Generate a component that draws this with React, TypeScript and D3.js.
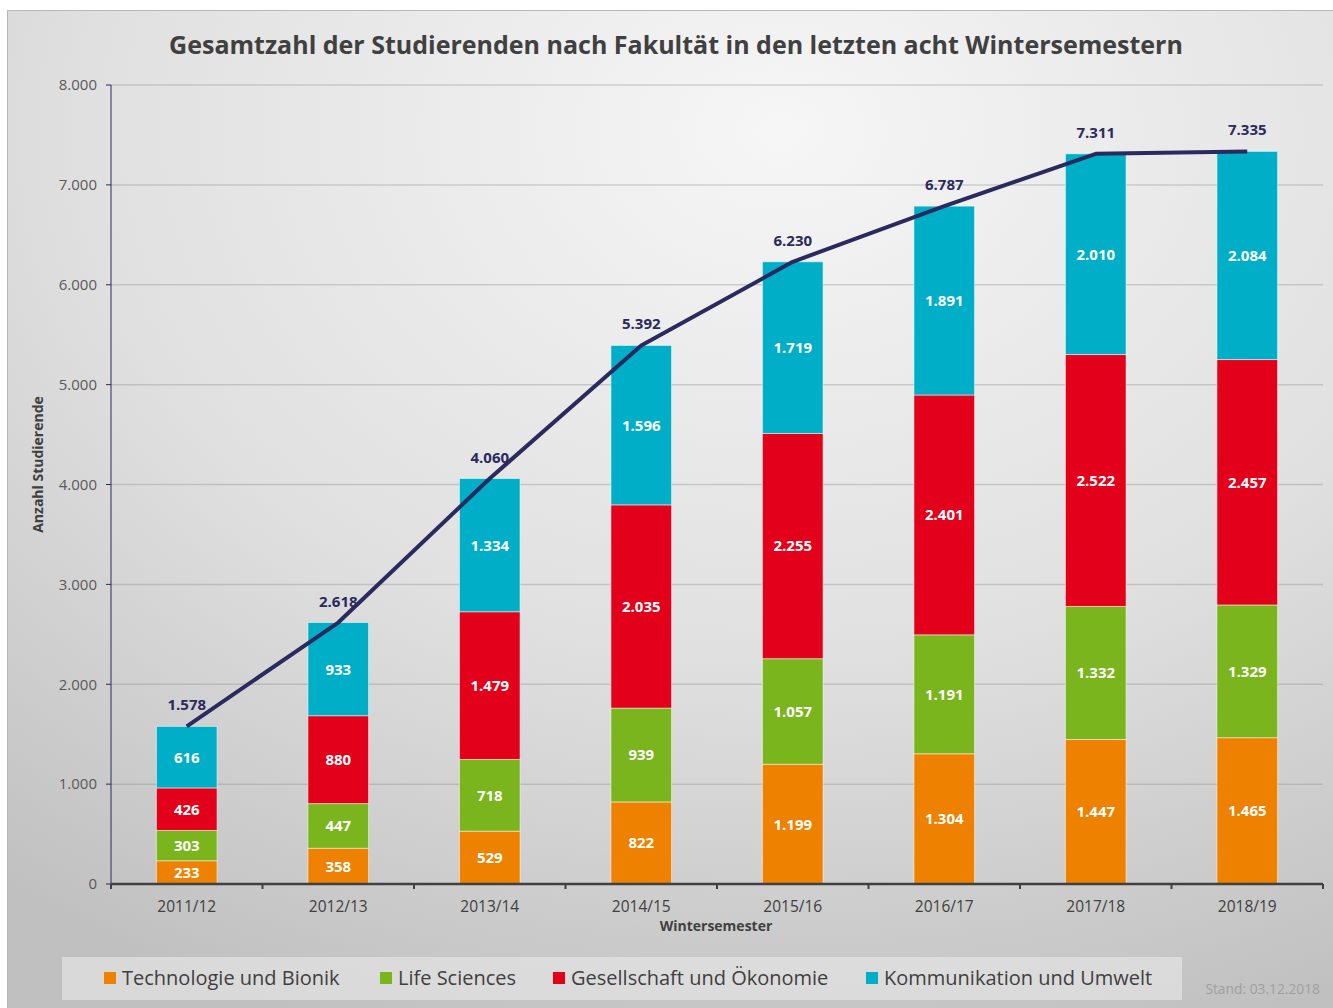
import React from 'react';
import * as d3 from 'd3';

const semesters = ['2011/12', '2012/13', '2013/14', '2014/15', '2015/16', '2016/17', '2017/18', '2018/19'];
const technologie = [233, 358, 529, 822, 1199, 1304, 1447, 1465];
const lifeSciences = [303, 447, 718, 939, 1057, 1191, 1332, 1329];
const gesellschaft = [426, 880, 1479, 2035, 2255, 2401, 2522, 2457];
const kommunikation = [616, 933, 1334, 1596, 1719, 1891, 2010, 2084];
const totals = [1578, 2618, 4060, 5392, 6230, 6787, 7311, 7335];
const yTicks = [0, 1000, 2000, 3000, 4000, 5000, 6000, 7000, 8000];

const series = [
  { name: 'Technologie und Bionik', values: technologie, color: '#ee8100' },
  { name: 'Life Sciences', values: lifeSciences, color: '#7ab51d' },
  { name: 'Gesellschaft und Ökonomie', values: gesellschaft, color: '#e2001a' },
  { name: 'Kommunikation und Umwelt', values: kommunikation, color: '#00afc7' },
];

const de = d3.formatLocale({ decimal: ',', thousands: '.', grouping: [3], currency: ['', ' €'] });
const fmt = de.format(',d');

const W = 1333;
const H = 1008;
const FONT = '"Open Sans", "Noto Sans", sans-serif';
const margin = { top: 85, right: 10, bottom: 124, left: 111 };

export default function App() {
  const x = d3.scaleBand().domain(semesters).range([margin.left, W - margin.right]).paddingInner(0.6).paddingOuter(0.3);
  const y = d3.scaleLinear().domain([0, 8000]).range([H - margin.bottom, margin.top]);

  const rows = semesters.map((s, i) => {
    const r: any = { semester: s };
    series.forEach(se => (r[se.name] = se.values[i]));
    return r;
  });
  const stacked = d3.stack().keys(series.map(s => s.name))(rows);

  const cx = (i: number) => (x(semesters[i]) as number) + x.bandwidth() / 2;
  const line = d3
    .line<number>()
    .x((_, i) => cx(i))
    .y(d => y(d));

  const x0 = margin.left;
  const x1 = W - margin.right;
  const step = x.step();
  const boundaries = d3.range(semesters.length + 1).map(i => x0 + i * step);

  const legendX = [104, 380, 553, 866];

  return (
    <div style={{ position: 'absolute', left: 0, top: 0 }}>
      <svg width={W} height={H} style={{ display: 'block', fontFamily: FONT }}>
        <defs>
          <radialGradient id="bg" cx="0.58" cy="0.12" r="0.95" fx="0.58" fy="0.12">
            <stop offset="0" stopColor="#f6f6f6" />
            <stop offset="0.55" stopColor="#e0e0e0" />
            <stop offset="1" stopColor="#c0c0c0" />
          </radialGradient>
        </defs>
        <rect x={0} y={0} width={W} height={H} fill="#ffffff" />
        <rect x={7.5} y={10.5} width={W} height={H} fill="url(#bg)" stroke="#b8b8b8" strokeWidth={1} />

        <text x={676} y={54} textAnchor="middle" fontSize={25} fontWeight={700} fill="#404040">
          Gesamtzahl der Studierenden nach Fakultät in den letzten acht Wintersemestern
        </text>

        {/* grid */}
        {yTicks.filter(t => t > 0).map(t => (
          <line key={t} x1={x0} x2={x1} y1={y(t)} y2={y(t)} stroke="#8a8a8a" strokeOpacity={0.35} strokeWidth={1.5} />
        ))}

        {/* y axis */}
        <line x1={x0} x2={x0} y1={y(8000)} y2={y(0)} stroke="#2b2a5e" strokeWidth={1} />
        {yTicks.map(t => (
          <g key={t}>
            <line x1={x0 - 5} x2={x0} y1={y(t)} y2={y(t)} stroke="#2b2a5e" strokeWidth={1} />
            <text x={x0 - 14} y={y(t)} dy="0.35em" textAnchor="end" fontSize={15} fill="#595959">
              {fmt(t)}
            </text>
          </g>
        ))}

        {/* bars */}
        {stacked.map((layer, li) => (
          <g key={layer.key} fill={series[li].color}>
            {layer.map((d, i) => (
              <g key={i}>
                <rect
                  x={x(semesters[i])}
                  y={y(d[1])}
                  width={x.bandwidth()}
                  height={y(d[0]) - y(d[1])}
                  stroke="#ffffff"
                  strokeOpacity={0.5}
                  strokeWidth={1}
                />
                <text
                  x={cx(i)}
                  y={(y(d[0]) + y(d[1])) / 2}
                  dy="0.36em"
                  textAnchor="middle"
                  fontSize={15}
                  fontWeight={700}
                  fill="#ffffff"
                >
                  {fmt(series[li].values[i])}
                </text>
              </g>
            ))}
          </g>
        ))}

        {/* x axis */}
        <line x1={x0} x2={x1} y1={y(0)} y2={y(0)} stroke="#404040" strokeWidth={2.5} />
        {boundaries.map((bx, i) => (
          <line key={i} x1={bx} x2={bx} y1={y(0)} y2={y(0) + 5} stroke="#404040" strokeWidth={2} />
        ))}
        {semesters.map((s, i) => (
          <text key={s} x={cx(i)} y={y(0) + 28} textAnchor="middle" fontSize={15.5} fill="#404040">
            {s}
          </text>
        ))}
        <text x={716} y={y(0) + 47} textAnchor="middle" fontSize={14} fontWeight={700} fill="#404040">
          Wintersemester
        </text>
        <text transform={`translate(43,${(y(0) + y(8000)) / 2 - 20}) rotate(-90)`} textAnchor="middle" fontSize={14} fontWeight={700} fill="#404040">
          Anzahl Studierende
        </text>

        {/* total line */}
        <path d={line(totals) || ''} fill="none" stroke="#2b2a5e" strokeWidth={4} strokeLinejoin="round" />
        {totals.map((t, i) => (
          <text key={i} x={cx(i)} y={y(t) - 16} textAnchor="middle" fontSize={15} fontWeight={700} fill="#2b2a5e">
            {fmt(t)}
          </text>
        ))}

        {/* legend */}
        <rect x={62} y={957} width={1120} height={43} fill="#e4e4e4" fillOpacity={0.7} />
        {series.map((s, i) => (
          <g key={s.name} transform={`translate(${legendX[i]},978)`}>
            <rect x={0} y={-6} width={12} height={12} fill={s.color} />
            <text x={18} y={0} dy="0.35em" fontSize={20} fill="#404040">
              {s.name}
            </text>
          </g>
        ))}

        <text x={1320} y={994} textAnchor="end" fontSize={13.8} fill="#a0a0a0">
          Stand: 03.12.2018
        </text>
      </svg>
    </div>
  );
}
